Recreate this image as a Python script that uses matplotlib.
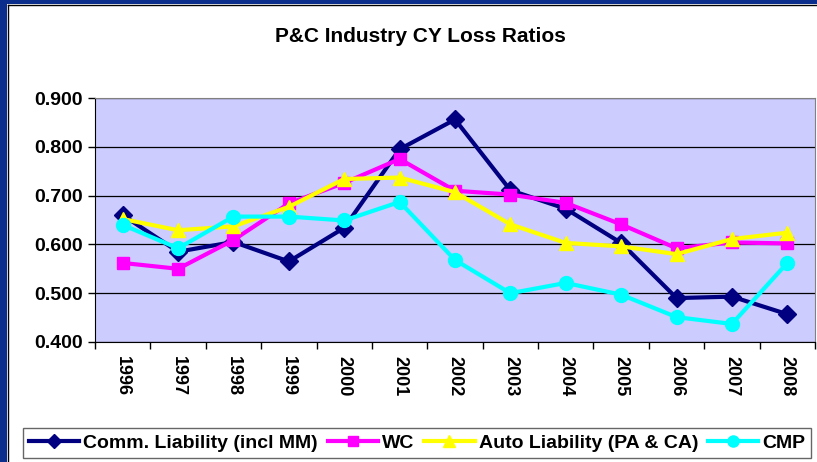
import numpy as np
import matplotlib.pyplot as plt
from matplotlib.patches import Rectangle
from matplotlib.lines import Line2D

plt.rcParams['font.family'] = ['Liberation Sans', 'DejaVu Sans']

years = ["1996", "1997", "1998", "1999", "2000", "2001", "2002",
         "2003", "2004", "2005", "2006", "2007", "2008"]
comm_liab = [0.660, 0.585, 0.605, 0.565, 0.634, 0.795, 0.856,
             0.711, 0.673, 0.603, 0.490, 0.493, 0.457]
wc = [0.562, 0.550, 0.609, 0.684, 0.726, 0.775, 0.710,
      0.702, 0.685, 0.641, 0.592, 0.604, 0.602]
auto_liab = [0.652, 0.629, 0.637, 0.677, 0.734, 0.737, 0.707,
             0.641, 0.603, 0.596, 0.580, 0.611, 0.624]
cmp_ = [0.640, 0.592, 0.657, 0.657, 0.649, 0.687, 0.568,
        0.500, 0.521, 0.497, 0.451, 0.437, 0.562]

series = [
    ("Comm. Liability (incl MM)", comm_liab, "#000080", "D", 9),
    ("WC", wc, "#FF00FF", "s", 9),
    ("Auto Liability (PA & CA)", auto_liab, "#FFFF00", "^", 10),
    ("CMP", cmp_, "#00FFFF", "o", 10),
]

fig = plt.figure(figsize=(8.17, 4.62), dpi=100)

# blue slide frame
fig.patches.append(Rectangle((0, 0), 7 / 817, 1, transform=fig.transFigure,
                             facecolor="#0B2D8C", edgecolor="none", zorder=0))
fig.patches.append(Rectangle((0, 1 - 4 / 462), 1, 4 / 462, transform=fig.transFigure,
                             facecolor="#0B2D8C", edgecolor="none", zorder=0))
fig.add_artist(Line2D([7.5 / 817, 7.5 / 817], [0, 1 - 4.5 / 462], transform=fig.transFigure,
                      color="black", lw=1))
fig.add_artist(Line2D([7.5 / 817, 1], [1 - 4.5 / 462, 1 - 4.5 / 462], transform=fig.transFigure,
                      color="black", lw=1))

ax = fig.add_axes([95 / 817, 1 - 342 / 462, (815 - 95) / 817, (342 - 98) / 462])
ax.set_facecolor("#CCCCFF")

x = np.arange(len(years))
for label, vals, color, marker, ms in series:
    ax.plot(x, vals, color=color, lw=3, marker=marker, markersize=ms,
            label=label, zorder=3)

ax.set_xlim(-0.5, len(years) - 0.5)
ax.set_ylim(0.4, 0.9)
yt = np.arange(0.4, 0.901, 0.1)
ax.set_yticks(yt)
ax.set_yticklabels([f"{v:.3f}" for v in yt], fontsize=14, fontweight="bold")
ax.yaxis.grid(True, color="black", lw=0.9)
ax.set_axisbelow(True)

ax.set_xticks(x)
ax.set_xticklabels(years, rotation=-90, fontsize=13, fontweight="bold")
ax.set_xticks(np.arange(-0.5, len(years), 1), minor=True)
ax.tick_params(axis="x", which="major", length=0, pad=10)
ax.tick_params(axis="x", which="minor", length=5, direction="out", width=1)
ax.tick_params(axis="y", length=5, direction="out", width=1, pad=4)

for side in ["top", "right"]:
    ax.spines[side].set_color("#808080")
for side in ["left", "bottom"]:
    ax.spines[side].set_color("black")

fig.text(420 / 817, 1 - 36 / 462, "P&C Industry CY Loss Ratios", ha="center", va="center",
         fontsize=15, fontweight="bold")

leg = fig.legend(loc="center", bbox_to_anchor=(417 / 817, 1 - 443 / 462), ncol=4,
                 prop={"size": 14, "weight": "bold"}, frameon=True, fancybox=False,
                 edgecolor="#404040", handlelength=2.6, handletextpad=0.2,
                 columnspacing=0.5, borderpad=0.3, markerscale=0.8)
leg.get_frame().set_linewidth(1)

fig.savefig("out.png", dpi=100)
